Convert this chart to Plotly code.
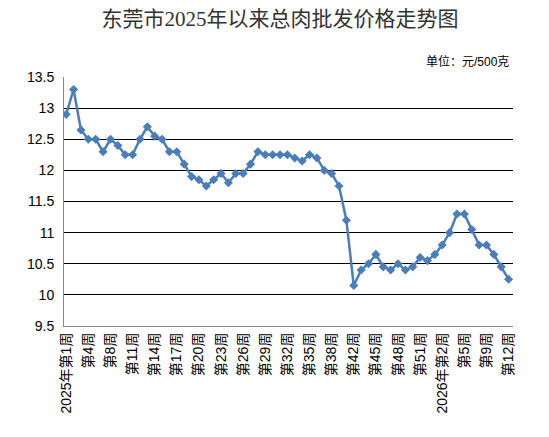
import plotly.graph_objects as go

# weeks shown on the chart (61 observations)
weeks_2025 = [1, 2, 3, 4, 5, 7, 8, 9, 10, 11, 12, 13, 14, 15, 16, 17, 18, 19, 20,
              21, 22, 23, 24, 25, 26, 27, 28, 29, 30, 31, 32, 33, 34, 35, 36, 37,
              38, 39, 41, 42, 43, 44, 45, 46, 47, 48, 49, 50, 51, 52]
weeks_2026 = [1, 2, 3, 4, 5, 6, 7, 9, 10, 11, 12]

prices = [12.9, 13.3, 12.65, 12.5, 12.5, 12.3, 12.5, 12.4, 12.25, 12.25,
          12.5, 12.7, 12.55, 12.5, 12.3, 12.3, 12.1, 11.9, 11.85, 11.75,
          11.85, 11.95, 11.8, 11.95, 11.95, 12.1, 12.3, 12.25, 12.25, 12.25,
          12.25, 12.2, 12.15, 12.25, 12.2, 12.0, 11.95, 11.75, 11.2, 10.15,
          10.4, 10.5, 10.65, 10.45, 10.4, 10.5, 10.4, 10.45, 10.6, 10.55,
          10.65, 10.8, 11.0, 11.3, 11.3, 11.05, 10.8, 10.8, 10.65, 10.45,
          10.25]

# unique category keys plus the text shown on the axis
keys = [f'2025年第{w}周' for w in weeks_2025] + [f'2026年第{w}周' for w in weeks_2026]
shown = []
for i, w in enumerate(weeks_2025):
    shown.append(('2025年' if i == 0 else '') + f'第{w}周')
for i, w in enumerate(weeks_2026):
    shown.append(('2026年' if i == 1 else '') + f'第{w}周')

fig = go.Figure()
fig.add_trace(go.Scatter(
    x=keys, y=prices, mode='lines+markers',
    line=dict(color='#4A7EBB', width=2.5),
    marker=dict(symbol='diamond', size=7, color='#4A7EBB'),
))

fig.update_layout(
    width=549, height=437,
    margin=dict(l=64, r=36, t=77, b=111),
    paper_bgcolor='white', plot_bgcolor='white',
    showlegend=False,
    font=dict(family='Liberation Sans, Noto Sans CJK SC', color='black'),
    title=dict(text='东莞市2025年以来总肉批发价格走势图',
               x=0.51, xanchor='center', y=0.958, yanchor='middle',
               font=dict(family='Liberation Serif, Noto Sans CJK SC', size=21, color='#333333')),
    annotations=[dict(text='单位：元/500克', xref='paper', yref='paper',
                      x=0.995, y=1.025, xanchor='right', yanchor='bottom',
                      showarrow=False, font=dict(size=12, color='black'))],
)
fig.update_xaxes(
    type='category', tickmode='array', tickvals=keys[::3], ticktext=shown[::3],
    tickangle=-90, tickfont=dict(size=14, family='Liberation Sans, Noto Sans CJK SC'),
    showgrid=False, showline=True, linecolor='#888888', linewidth=1,
    ticks='', range=[-0.3, 60.6],
)
fig.update_yaxes(
    range=[9.5, 13.5], dtick=0.5, tick0=9.5,
    showgrid=True, gridcolor='black', gridwidth=1,
    showline=True, linecolor='#888888', linewidth=1, zeroline=False,
    tickfont=dict(size=14), ticks='', ticklabelstandoff=6,
)

fig.write_html('out.html', config={'displayModeBar': False},
               post_script="document.body.style.margin='0';")
